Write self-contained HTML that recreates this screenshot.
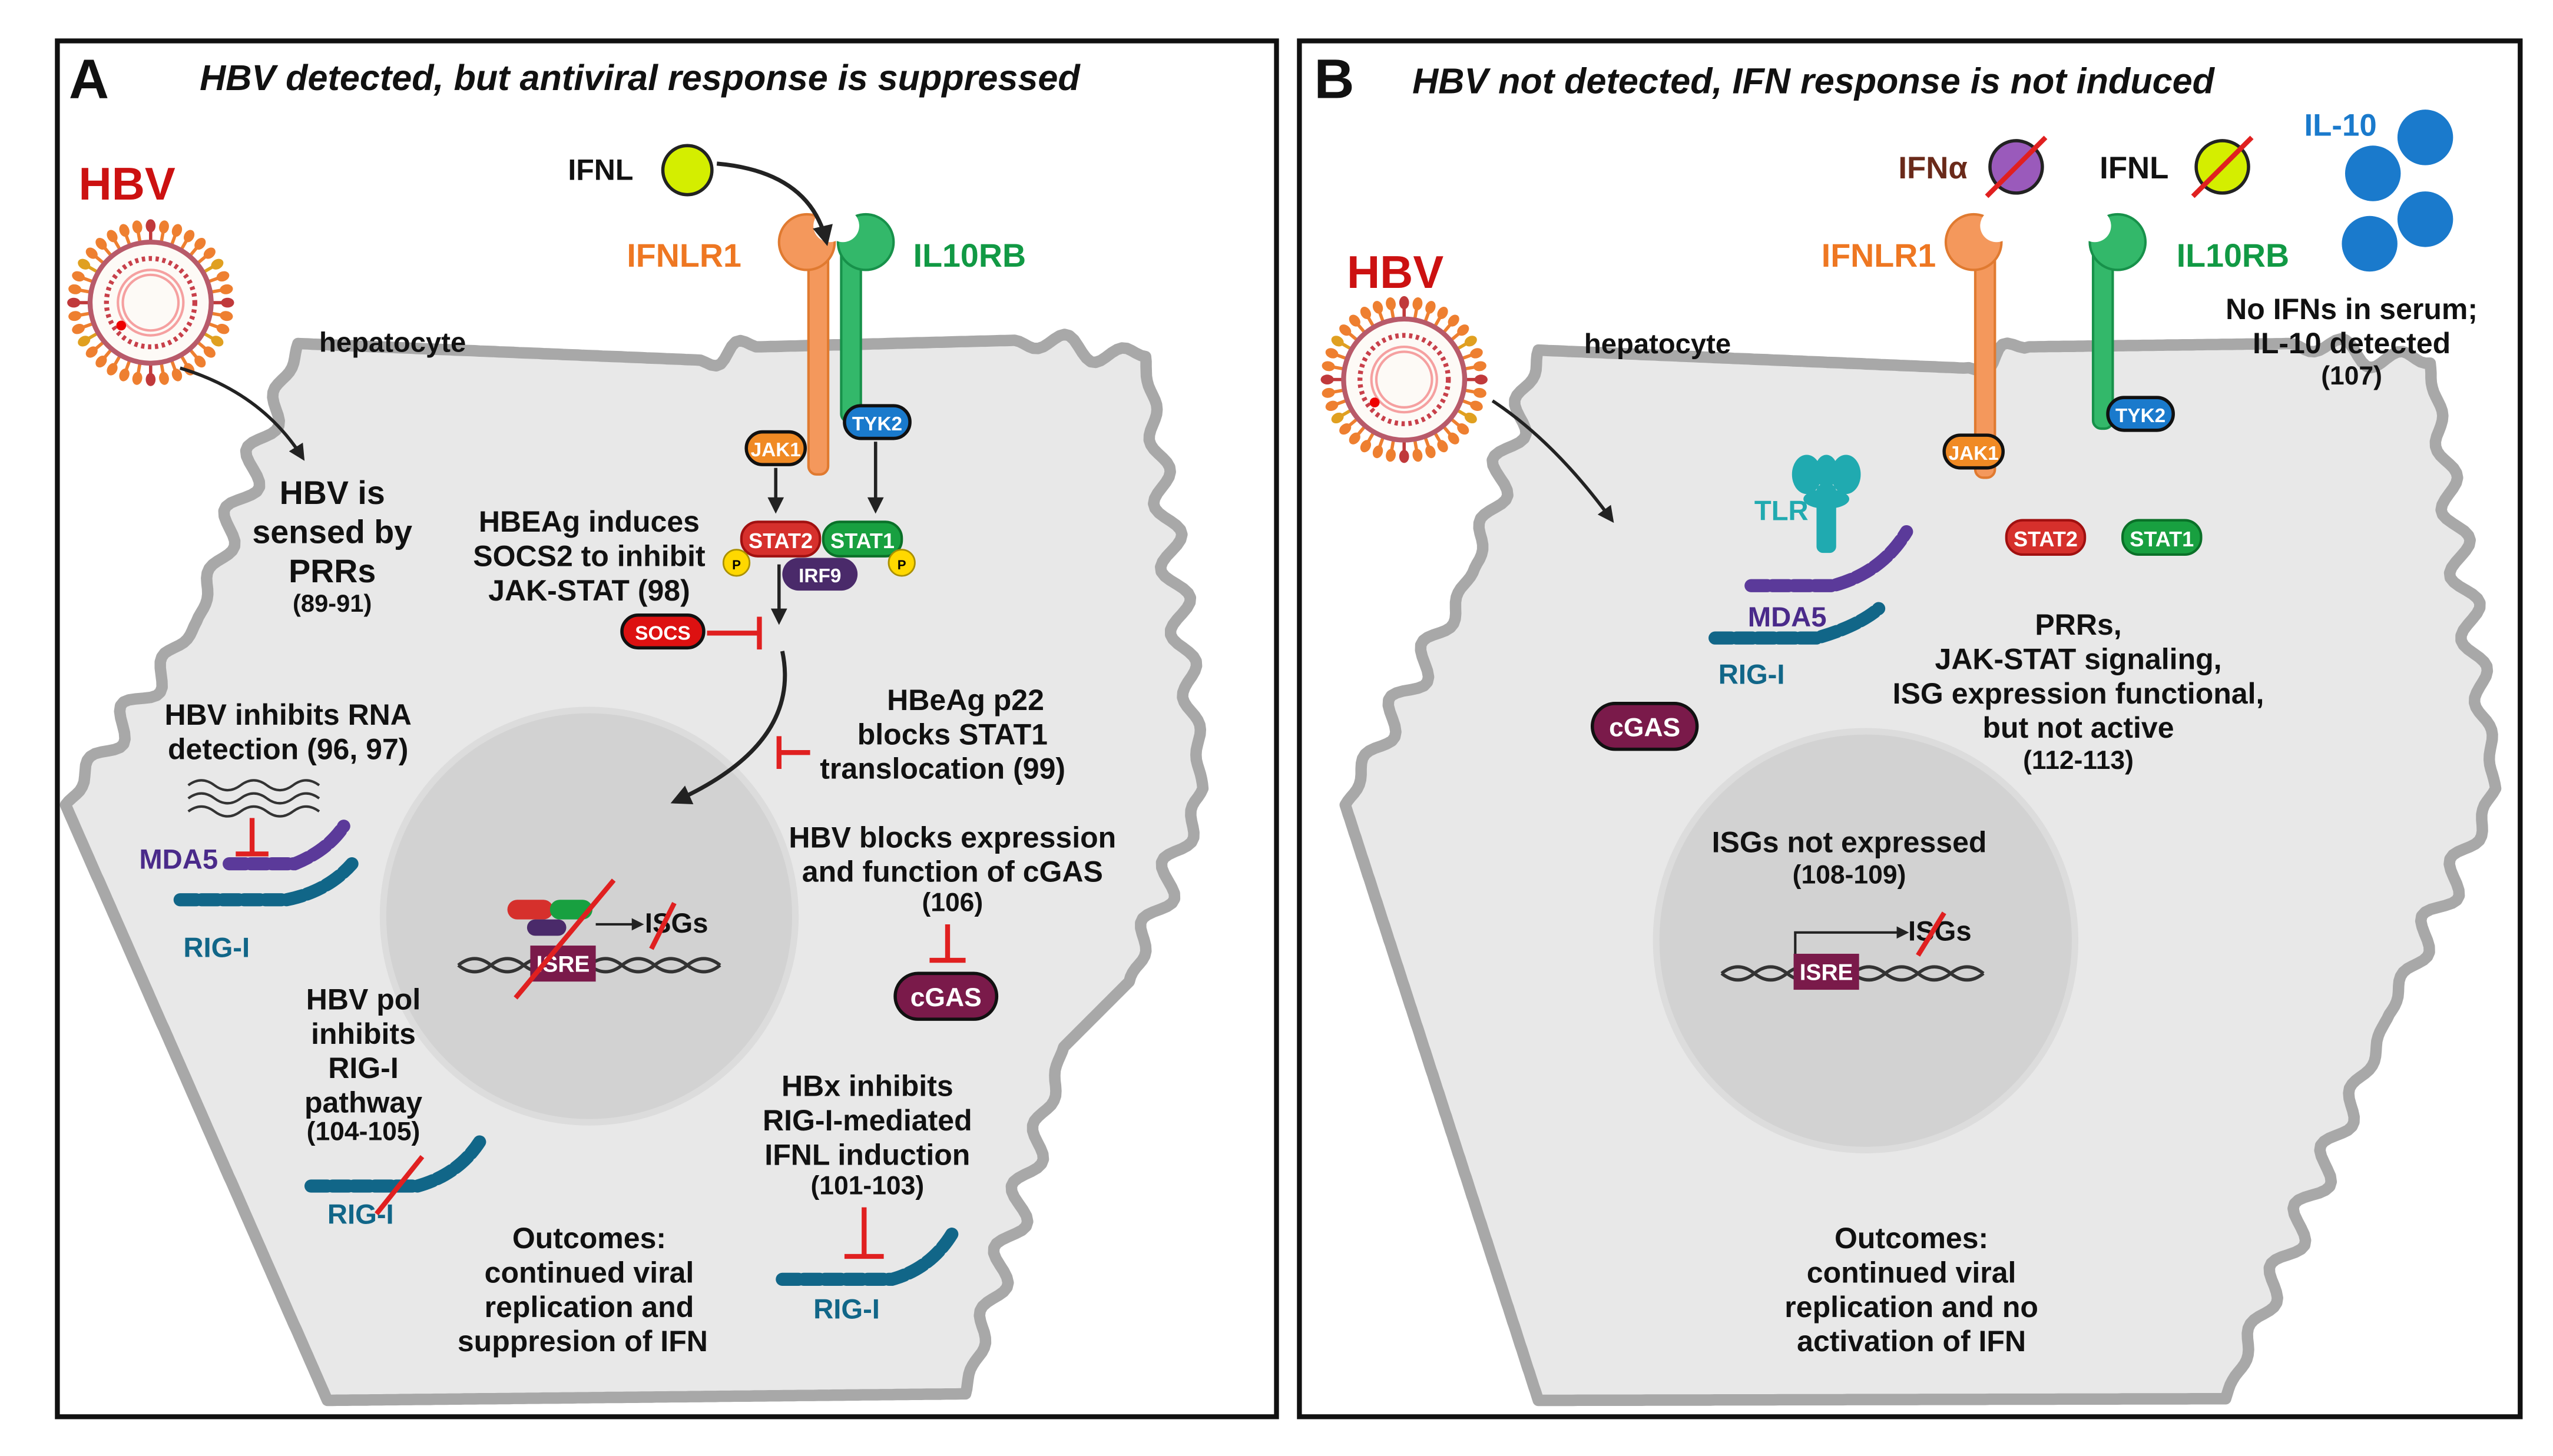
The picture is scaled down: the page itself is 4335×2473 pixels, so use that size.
<!DOCTYPE html>
<html><head><meta charset="utf-8"><style>
html,body{margin:0;padding:0;background:#fff;}
svg{display:block;background:#fff;}
text{font-family:"Liberation Sans",Arial,sans-serif;font-weight:bold;}
</style></head><body>
<svg id="s" width="4335" height="2473" viewBox="0 0 1560 890" xmlns="http://www.w3.org/2000/svg">
<defs>
<marker id="ah" viewBox="0 0 10 10" refX="8" refY="5" markerWidth="5" markerHeight="5" orient="auto"><path d="M0,0 L10,5 L0,10 z" fill="#222"/></marker>
</defs>
<rect x="0" y="0" width="1560" height="890" fill="#fff"/>
<rect x="35" y="25" width="745" height="841" fill="#fff" stroke="#111" stroke-width="3"/>
<rect x="794" y="25" width="746" height="841" fill="#fff" stroke="#111" stroke-width="3"/>

<path id="cellA" d="" fill="#e8e8e8" stroke="#a8a8a8" stroke-width="7" stroke-linejoin="round"/>
<circle cx="360" cy="560" r="126" fill="#d2d2d2" stroke="#dcdcdc" stroke-width="4"/>
<path id="cellB" d="" fill="#e8e8e8" stroke="#a8a8a8" stroke-width="7" stroke-linejoin="round"/>
<circle cx="1140" cy="575" r="128" fill="#d2d2d2" stroke="#dcdcdc" stroke-width="4"/>
<g id="virA"></g><g id="virB"></g>

<text x="42" y="60" font-size="34" fill="#111">A</text>
<text x="122" y="55" font-size="22" font-style="italic" fill="#111">HBV detected, but antiviral response is suppressed</text>
<text x="803" y="60" font-size="34" fill="#111">B</text>
<text x="863" y="57" font-size="22" font-style="italic" fill="#111">HBV not detected, IFN response is not induced</text>

<!-- Panel A -->
<text x="48" y="122" font-size="28" fill="#cc1111">HBV</text>
<path d="M110,225 Q160,240 185,280" fill="none" stroke="#222" stroke-width="2" marker-end="url(#ah)"/>
<text x="195" y="215" font-size="17" fill="#111">hepatocyte</text>
<text x="203" y="308" font-size="20" fill="#111" text-anchor="middle">HBV is</text>
<text x="203" y="332" font-size="20" fill="#111" text-anchor="middle">sensed by</text>
<text x="203" y="356" font-size="20" fill="#111" text-anchor="middle">PRRs</text>
<text x="203" y="374" font-size="15" fill="#111" text-anchor="middle">(89-91)</text>

<text x="347" y="110" font-size="18" fill="#111">IFNL</text>
<circle cx="420" cy="104" r="15" fill="#d4ee00" stroke="#222" stroke-width="2"/>
<!-- receptors A -->
<rect x="494" y="150" width="12" height="140" rx="5" fill="#f4985c" stroke="#e07a30" stroke-width="1.5"/>
<circle cx="493" cy="148" r="17" fill="#f4985c" stroke="#e07a30" stroke-width="1.5"/>
<circle cx="507" cy="138" r="10" fill="#fff"/>
<rect x="514" y="150" width="12" height="108" rx="5" fill="#33b86a" stroke="#17914a" stroke-width="1.5"/>
<circle cx="529" cy="148" r="17" fill="#33b86a" stroke="#17914a" stroke-width="1.5"/>
<circle cx="515" cy="138" r="10" fill="#fff"/>
<path d="M438,100 Q495,105 505,148" fill="none" stroke="#222" stroke-width="2.5" marker-end="url(#ah)"/>
<text x="383" y="163" font-size="20" fill="#ee7722">IFNLR1</text>
<text x="558" y="163" font-size="20" fill="#119944">IL10RB</text>
<rect x="456" y="264" width="36" height="20" rx="10" fill="#f08a24" stroke="#111" stroke-width="2"/><text x="474" y="279" font-size="12" fill="#fff" text-anchor="middle" font-weight="normal">JAK1</text>
<rect x="516" y="248" width="40" height="20" rx="10" fill="#1a7acc" stroke="#111" stroke-width="2"/><text x="536" y="263" font-size="12" fill="#fff" text-anchor="middle" font-weight="normal">TYK2</text>
<line x1="474" y1="286" x2="474" y2="312" stroke="#222" stroke-width="2" marker-end="url(#ah)"/>
<line x1="535" y1="270" x2="535" y2="312" stroke="#222" stroke-width="2" marker-end="url(#ah)"/>
<rect x="453" y="319" width="48" height="21" rx="10" fill="#d6302c" stroke="#a01010" stroke-width="1.5"/><text x="477" y="335" font-size="13" fill="#fff" text-anchor="middle" font-weight="normal">STAT2</text>
<rect x="503" y="319" width="48" height="21" rx="10" fill="#18a040" stroke="#0a7028" stroke-width="1.5"/><text x="527" y="335" font-size="13" fill="#fff" text-anchor="middle" font-weight="normal">STAT1</text>
<rect x="478" y="341" width="46" height="20" rx="10" fill="#4a2a6a"/><text x="501" y="356" font-size="12" fill="#fff" text-anchor="middle" font-weight="normal">IRF9</text>
<circle cx="450" cy="344" r="8" fill="#ffd800" stroke="#aa9000"/><text x="450" y="348" font-size="8" text-anchor="middle">P</text>
<circle cx="551" cy="344" r="8" fill="#ffd800" stroke="#aa9000"/><text x="551" y="348" font-size="8" text-anchor="middle">P</text>
<line x1="476" y1="345" x2="476" y2="380" stroke="#222" stroke-width="2" marker-end="url(#ah)"/>
<text x="360" y="325" font-size="18" fill="#111" text-anchor="middle">HBEAg induces</text>
<text x="360" y="346" font-size="18" fill="#111" text-anchor="middle">SOCS2 to inhibit</text>
<text x="360" y="367" font-size="18" fill="#111" text-anchor="middle">JAK-STAT (98)</text>
<rect x="380" y="376" width="50" height="20" rx="10" fill="#dd1111" stroke="#111" stroke-width="2"/><text x="405" y="391" font-size="12" fill="#fff" text-anchor="middle">SOCS</text>
<line x1="432" y1="387" x2="464" y2="387" stroke="#e02020" stroke-width="3"/><line x1="464" y1="377" x2="464" y2="397" stroke="#e02020" stroke-width="3"/>
<path d="M478,398 Q490,455 412,490" fill="none" stroke="#222" stroke-width="2.5" marker-end="url(#ah)"/>
<line x1="495" y1="460" x2="476" y2="460" stroke="#e02020" stroke-width="3"/><line x1="476" y1="450" x2="476" y2="470" stroke="#e02020" stroke-width="3"/>
<text x="590" y="434" font-size="18" fill="#111" text-anchor="middle">HBeAg p22</text>
<text x="582" y="455" font-size="18" fill="#111" text-anchor="middle">blocks STAT1</text>
<text x="576" y="476" font-size="18" fill="#111" text-anchor="middle">translocation (99)</text>
<text x="176" y="443" font-size="18" fill="#111" text-anchor="middle">HBV inhibits RNA</text>
<text x="176" y="464" font-size="18" fill="#111" text-anchor="middle">detection (96, 97)</text>
<path d="M115,480 q8,-6 16,0 t16,0 t16,0 t16,0 t16,0 M115,488 q8,-6 16,0 t16,0 t16,0 t16,0 t16,0 M115,496 q8,-6 16,0 t16,0 t16,0 t16,0 t16,0" fill="none" stroke="#333" stroke-width="1.5"/>
<line x1="154" y1="500" x2="154" y2="522" stroke="#e02020" stroke-width="3"/><line x1="144" y1="522" x2="164" y2="522" stroke="#e02020" stroke-width="3"/>
<text x="85" y="531" font-size="17" fill="#4a2a8a">MDA5</text>
<path d="M140,528 L180,528 Q200,520 210,505" fill="none" stroke="#5b3a9a" stroke-width="8" stroke-linecap="round" stroke-dasharray="10 3"/>
<path d="M110,550 L175,550 Q200,545 215,528" fill="none" stroke="#116688" stroke-width="8" stroke-linecap="round" stroke-dasharray="10 3"/>
<text x="112" y="585" font-size="17" fill="#116688">RIG-I</text>
<text x="582" y="518" font-size="18" fill="#111" text-anchor="middle">HBV blocks expression</text>
<text x="582" y="539" font-size="18" fill="#111" text-anchor="middle">and function of cGAS</text>
<text x="582" y="557" font-size="16" fill="#111" text-anchor="middle">(106)</text>
<line x1="579" y1="565" x2="579" y2="587" stroke="#e02020" stroke-width="3"/><line x1="568" y1="587" x2="590" y2="587" stroke="#e02020" stroke-width="3"/>
<rect x="547" y="595" width="62" height="28" rx="14" fill="#7a1a4a" stroke="#111" stroke-width="2"/><text x="578" y="615" font-size="16" fill="#fff" text-anchor="middle" font-weight="normal">cGAS</text>
<path d="M280,590 q10,-8 20,0 t20,0 t20,0 t20,0 t20,0 t20,0 t20,0 t20,0 M280,590 q10,8 20,0 t20,0 t20,0 t20,0 t20,0 t20,0 t20,0 t20,0" fill="none" stroke="#333" stroke-width="2"/>
<rect x="324" y="578" width="40" height="22" fill="#7a1a4a"/><text x="344" y="594" font-size="14" fill="#fff" text-anchor="middle" font-weight="normal">ISRE</text>
<rect x="310" y="550" width="28" height="12" rx="6" fill="#d6302c"/><rect x="336" y="550" width="26" height="12" rx="6" fill="#18a040"/><rect x="322" y="562" width="24" height="10" rx="5" fill="#4a2a6a"/>
<line x1="364" y1="565" x2="392" y2="565" stroke="#222" stroke-width="1.5" marker-end="url(#ah)"/>
<text x="394" y="570" font-size="17" fill="#111">ISGs</text>
<line x1="315" y1="610" x2="375" y2="538" stroke="#e02020" stroke-width="3"/>
<line x1="398" y1="580" x2="412" y2="552" stroke="#e02020" stroke-width="3"/>
<text x="222" y="617" font-size="18" fill="#111" text-anchor="middle">HBV pol</text>
<text x="222" y="638" font-size="18" fill="#111" text-anchor="middle">inhibits</text>
<text x="222" y="659" font-size="18" fill="#111" text-anchor="middle">RIG-I</text>
<text x="222" y="680" font-size="18" fill="#111" text-anchor="middle">pathway</text>
<text x="222" y="697" font-size="16" fill="#111" text-anchor="middle">(104-105)</text>
<path d="M190,725 L255,725 Q280,718 293,698" fill="none" stroke="#116688" stroke-width="8" stroke-linecap="round" stroke-dasharray="10 3"/>
<line x1="230" y1="742" x2="258" y2="707" stroke="#e02020" stroke-width="3"/>
<text x="200" y="748" font-size="17" fill="#116688">RIG-I</text>
<text x="360" y="763" font-size="18" fill="#111" text-anchor="middle">Outcomes:</text>
<text x="360" y="784" font-size="18" fill="#111" text-anchor="middle">continued viral</text>
<text x="360" y="805" font-size="18" fill="#111" text-anchor="middle">replication and</text>
<text x="356" y="826" font-size="18" fill="#111" text-anchor="middle">suppresion of IFN</text>
<text x="530" y="670" font-size="18" fill="#111" text-anchor="middle">HBx inhibits</text>
<text x="530" y="691" font-size="18" fill="#111" text-anchor="middle">RIG-I-mediated</text>
<text x="530" y="712" font-size="18" fill="#111" text-anchor="middle">IFNL induction</text>
<text x="530" y="730" font-size="16" fill="#111" text-anchor="middle">(101-103)</text>
<line x1="528" y1="738" x2="528" y2="768" stroke="#e02020" stroke-width="3"/><line x1="516" y1="768" x2="540" y2="768" stroke="#e02020" stroke-width="3"/>
<path d="M478,782 L545,782 Q570,775 583,752" fill="none" stroke="#116688" stroke-width="8" stroke-linecap="round" stroke-dasharray="10 3"/>
<text x="497" y="806" font-size="17" fill="#116688">RIG-I</text>

<!-- Panel B -->
<text x="823" y="176" font-size="28" fill="#cc1111">HBV</text>
<path d="M912,245 Q950,270 985,318" fill="none" stroke="#222" stroke-width="2" marker-end="url(#ah)"/>
<text x="968" y="216" font-size="17" fill="#111">hepatocyte</text>
<text x="1160" y="109" font-size="19" fill="#6a2a1a">IFNα</text>
<circle cx="1232" cy="102" r="16" fill="#9a5abb" stroke="#222" stroke-width="2"/>
<line x1="1214" y1="120" x2="1250" y2="84" stroke="#e02020" stroke-width="3"/>
<text x="1283" y="109" font-size="19" fill="#111">IFNL</text>
<circle cx="1358" cy="102" r="16" fill="#d4ee00" stroke="#222" stroke-width="2"/>
<line x1="1340" y1="120" x2="1376" y2="84" stroke="#e02020" stroke-width="3"/>
<text x="1408" y="83" font-size="19" fill="#1a7acc">IL-10</text>
<circle cx="1482" cy="84" r="17" fill="#1a7acc"/><circle cx="1450" cy="106" r="17" fill="#1a7acc"/><circle cx="1482" cy="134" r="17" fill="#1a7acc"/><circle cx="1448" cy="149" r="17" fill="#1a7acc"/>
<rect x="1207" y="150" width="12" height="142" rx="5" fill="#f4985c" stroke="#e07a30" stroke-width="1.5"/>
<circle cx="1206" cy="148" r="17" fill="#f4985c" stroke="#e07a30" stroke-width="1.5"/>
<circle cx="1220" cy="138" r="10" fill="#fff"/>
<rect x="1279" y="150" width="12" height="112" rx="5" fill="#33b86a" stroke="#17914a" stroke-width="1.5"/>
<circle cx="1294" cy="148" r="17" fill="#33b86a" stroke="#17914a" stroke-width="1.5"/>
<circle cx="1280" cy="138" r="10" fill="#fff"/>
<text x="1113" y="163" font-size="20" fill="#ee7722">IFNLR1</text>
<text x="1330" y="163" font-size="20" fill="#119944">IL10RB</text>
<rect x="1188" y="266" width="36" height="20" rx="10" fill="#f08a24" stroke="#111" stroke-width="2"/><text x="1206" y="281" font-size="12" fill="#fff" text-anchor="middle" font-weight="normal">JAK1</text>
<rect x="1288" y="243" width="40" height="20" rx="10" fill="#1a7acc" stroke="#111" stroke-width="2"/><text x="1308" y="258" font-size="12" fill="#fff" text-anchor="middle" font-weight="normal">TYK2</text>
<text x="1437" y="195" font-size="18" fill="#111" text-anchor="middle">No IFNs in serum;</text>
<text x="1437" y="216" font-size="18" fill="#111" text-anchor="middle">IL-10 detected</text>
<text x="1437" y="235" font-size="16" fill="#111" text-anchor="middle">(107)</text>
<rect x="1226" y="318" width="48" height="21" rx="10" fill="#d6302c" stroke="#a01010" stroke-width="1.5"/><text x="1250" y="334" font-size="13" fill="#fff" text-anchor="middle" font-weight="normal">STAT2</text>
<rect x="1297" y="318" width="48" height="21" rx="10" fill="#18a040" stroke="#0a7028" stroke-width="1.5"/><text x="1321" y="334" font-size="13" fill="#fff" text-anchor="middle" font-weight="normal">STAT1</text>
<!-- TLR -->
<g fill="#20aab0">
<ellipse cx="1104" cy="290" rx="9" ry="12"/><ellipse cx="1128" cy="290" rx="9" ry="12"/><ellipse cx="1116" cy="288" rx="7" ry="10"/>
<rect x="1110" y="296" width="12" height="42" rx="4"/>
<ellipse cx="1116" cy="305" rx="14" ry="6"/>
</g>
<text x="1072" y="318" font-size="17" fill="#20aab0">TLR</text>
<path d="M1070,358 L1120,358 Q1150,350 1165,325" fill="none" stroke="#5b3a9a" stroke-width="8" stroke-linecap="round" stroke-dasharray="10 3"/>
<text x="1068" y="383" font-size="17" fill="#4a2a8a">MDA5</text>
<path d="M1048,390 L1110,390 Q1135,383 1148,372" fill="none" stroke="#116688" stroke-width="8" stroke-linecap="round" stroke-dasharray="10 3"/>
<text x="1050" y="418" font-size="17" fill="#116688">RIG-I</text>
<rect x="973" y="430" width="64" height="28" rx="14" fill="#7a1a4a" stroke="#111" stroke-width="2"/><text x="1005" y="450" font-size="16" fill="#fff" text-anchor="middle" font-weight="normal">cGAS</text>
<text x="1270" y="388" font-size="18" fill="#111" text-anchor="middle">PRRs,</text>
<text x="1270" y="409" font-size="18" fill="#111" text-anchor="middle">JAK-STAT signaling,</text>
<text x="1270" y="430" font-size="18" fill="#111" text-anchor="middle">ISG expression functional,</text>
<text x="1270" y="451" font-size="18" fill="#111" text-anchor="middle">but not active</text>
<text x="1270" y="470" font-size="16" fill="#111" text-anchor="middle">(112-113)</text>
<text x="1130" y="521" font-size="18" fill="#111" text-anchor="middle">ISGs not expressed</text>
<text x="1130" y="540" font-size="16" fill="#111" text-anchor="middle">(108-109)</text>
<path d="M1052,595 q10,-8 20,0 t20,0 t20,0 t20,0 t20,0 t20,0 t20,0 t20,0 M1052,595 q10,8 20,0 t20,0 t20,0 t20,0 t20,0 t20,0 t20,0 t20,0" fill="none" stroke="#333" stroke-width="2"/>
<rect x="1096" y="583" width="40" height="22" fill="#7a1a4a"/><text x="1116" y="599" font-size="14" fill="#fff" text-anchor="middle" font-weight="normal">ISRE</text>
<path d="M1097,583 L1097,570 L1165,570" fill="none" stroke="#222" stroke-width="1.5" marker-end="url(#ah)"/>
<text x="1166" y="575" font-size="17" fill="#111">ISGs</text>
<line x1="1172" y1="584" x2="1188" y2="558" stroke="#e02020" stroke-width="3"/>
<text x="1168" y="763" font-size="18" fill="#111" text-anchor="middle">Outcomes:</text>
<text x="1168" y="784" font-size="18" fill="#111" text-anchor="middle">continued viral</text>
<text x="1168" y="805" font-size="18" fill="#111" text-anchor="middle">replication and no</text>
<text x="1168" y="826" font-size="18" fill="#111" text-anchor="middle">activation of IFN</text>
</svg>
<script>
function wavy(pts,amp,wl){
  var d='';var first=true;
  for(var i=0;i<pts.length;i++){
    var a=pts[i],b=pts[(i+1)%pts.length];
    var dx=b[0]-a[0],dy=b[1]-a[1],L=Math.hypot(dx,dy);
    var nx=-dy/L,ny=dx/L;var n=Math.max(2,Math.round(L/3));
    var w=a[2]||0;
    for(var k=0;k<n;k++){
      var t=k/n,s=t*L;
      var off=w?amp*Math.sin(s/wl*2*Math.PI)*Math.sin(Math.PI*t):0;
      var x=a[0]+dx*t+nx*off,y=a[1]+dy*t+ny*off;
      d+=(first?'M':'L')+x.toFixed(1)+','+y.toFixed(1);first=false;
    }
  }
  return d+'Z';
}
document.getElementById('cellA').setAttribute('d',wavy([
 [182,210,0],[425,220,1],[465,212,0],[620,208,1],[700,218,1],[735,482,1],[690,600,0],[650,640,1],[590,852,0],[200,856,0],[40,492,1],[120,380,1]
],8,40));
document.getElementById('cellB').setAttribute('d',wavy([
 [940,214,0],[1200,225,1],[1240,212,0],[1400,210,1],[1485,222,1],[1525,482,1],[1460,620,1],[1360,855,0],[940,856,0],[822,492,1],[900,350,1]
],8,40));
function virus(g,cx,cy){
  var ns='http://www.w3.org/2000/svg',h='';
  for(var i=0;i<36;i++){
    var a=i/36*2*Math.PI,c=(i%9==0)?'#c0393b':(i%6==3?'#e0a020':'#ee7f30');
    var x1=cx+38*Math.cos(a),y1=cy+38*Math.sin(a),x2=cx+46*Math.cos(a),y2=cy+46*Math.sin(a);
    h+='<line x1="'+x1+'" y1="'+y1+'" x2="'+x2+'" y2="'+y2+'" stroke="'+c+'" stroke-width="2"/>';
    h+='<ellipse cx="'+(cx+47*Math.cos(a))+'" cy="'+(cy+47*Math.sin(a))+'" rx="4" ry="3" transform="rotate('+(a*180/Math.PI)+' '+(cx+47*Math.cos(a))+' '+(cy+47*Math.sin(a))+')" fill="'+c+'"/>';
  }
  h+='<circle cx="'+cx+'" cy="'+cy+'" r="37" fill="#fdfaf6" stroke="#b85a6a" stroke-width="3"/>';
  h+='<circle cx="'+cx+'" cy="'+cy+'" r="27" fill="none" stroke="#c8404a" stroke-width="3" stroke-dasharray="2 2.2"/>';
  h+='<circle cx="'+cx+'" cy="'+cy+'" r="20" fill="none" stroke="#f5a0a0" stroke-width="1.5"/>';
  h+='<circle cx="'+cx+'" cy="'+cy+'" r="17" fill="none" stroke="#f5a0a0" stroke-width="1.5"/>';
  h+='<circle cx="'+(cx-18)+'" cy="'+(cy+14)+'" r="3" fill="#e00"/>';
  g.innerHTML=h;
}
virus(document.getElementById('virA'),92,185);
virus(document.getElementById('virB'),858,232);
</script>
</body></html>
